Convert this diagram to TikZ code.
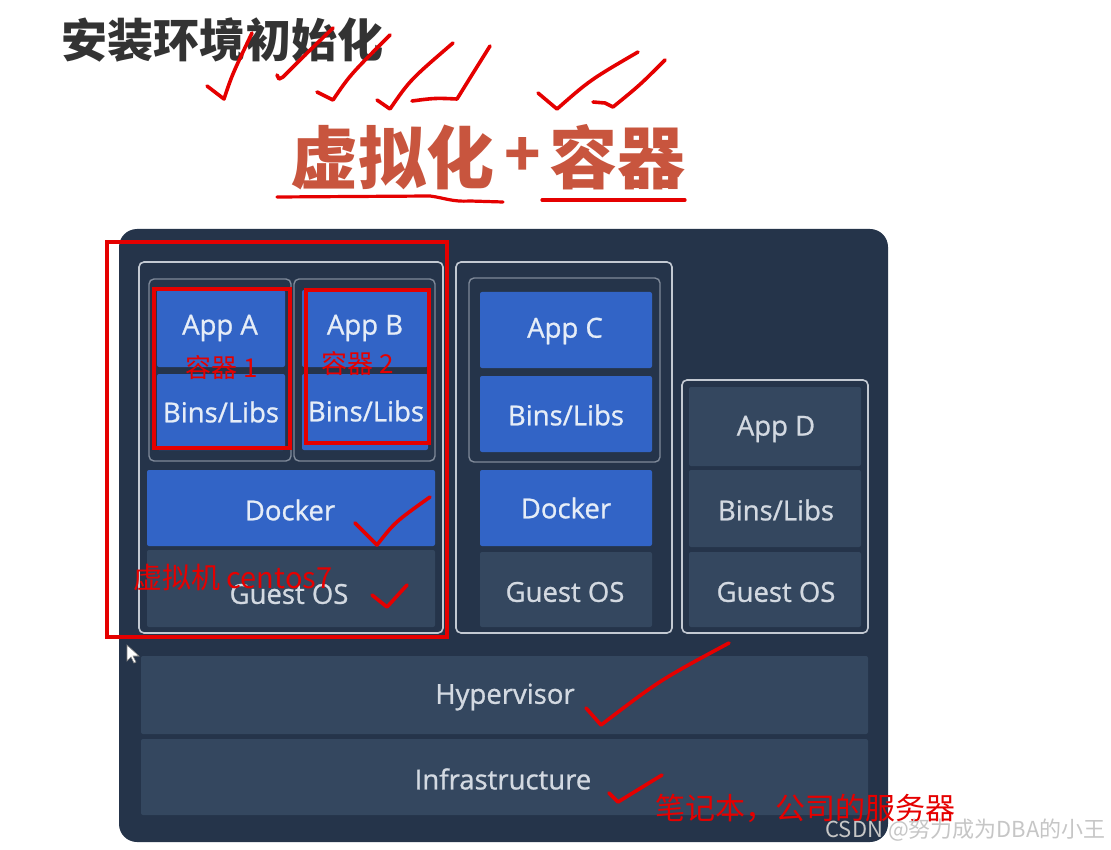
\documentclass[tikz,border=0pt]{standalone}
\usepackage{fontspec}
\setmainfont{Open Sans}
\newfontfamily\semi{Open Sans}[FakeBold=0.9]
\newfontfamily\cjk{Noto Sans CJK SC}
\usepackage{xcolor}
\usetikzlibrary{positioning}
\definecolor{kpanel}{HTML}{25344A}
\definecolor{kblue}{HTML}{3264C6}
\definecolor{kslate}{HTML}{34475F}
\definecolor{kframe}{HTML}{C3C9D2}
\definecolor{kctr}{HTML}{7F8999}
\definecolor{kltxt}{HTML}{E6EDF7}
\definecolor{kgtxt}{HTML}{D3D9E1}
\definecolor{kred}{HTML}{E50000}
\definecolor{khead}{HTML}{C8553E}

\begin{document}
\begin{tikzpicture}[x=1pt, y=-1pt,
  blueblk/.style={fill=kblue, rounded corners=2pt},
  slateblk/.style={fill=kslate, rounded corners=2pt},
  vmframe/.style={draw=kframe, line width=1.6pt, rounded corners=5pt},
  ctframe/.style={draw=kctr, line width=1.4pt, rounded corners=5pt},
  bluelbl/.style={font=\semi\fontsize{27.5}{30}\selectfont, text=kltxt},
  slatelbl/.style={font=\semi\fontsize{27.5}{30}\selectfont, text=kgtxt},
  redbox/.style={draw=kred, line width=3.2pt},
  redtxt/.style={font=\cjk\fontsize{26}{30}\selectfont, text=kred, inner sep=0pt},
  penmark/.style={draw=kred, line width=3.6pt, line cap=round, line join=round}]
\useasboundingbox (0,0) rectangle (1111,850);
\fill[white] (0,0) rectangle (1111,850);

% headings
\node[font=\cjk\bfseries\fontsize{46}{50}\selectfont, text=black!80, anchor=west, inner sep=0pt]
  (setup) at (61,40) {安装环境初始化};
\node[font=\cjk\bfseries\fontsize{68}{72}\selectfont, text=khead, anchor=west, inner sep=0pt]
  (virt) at (290,157) {虚拟化};
\node[font=\cjk\bfseries\fontsize{60}{64}\selectfont, text=khead, inner sep=0pt]
  (plus) at (523,157) {+};
\node[font=\cjk\bfseries\fontsize{68}{72}\selectfont, text=khead, anchor=west, inner sep=0pt]
  (ctr) at (549,157) {容器};

% dark panel
\fill[kpanel, rounded corners=18pt] (119,229) rectangle (888,842);

% VM 1: two containers on docker
\draw[vmframe] (139,262) rectangle (443,633);
\draw[ctframe] (149,279) rectangle (291,461);
\draw[ctframe] (294,279) rectangle (435,461);
\fill[blueblk] (157,290) rectangle (285,367);
\fill[blueblk] (157,374) rectangle (285,450);
\fill[blueblk] (302,290) rectangle (428,367);
\fill[blueblk] (302,374) rectangle (428,450);
\fill[blueblk] (147,470) rectangle (435,546);
\fill[slateblk] (147,550) rectangle (435,627);
\node[bluelbl] (appa) at (220,328) {App A};
\node[bluelbl] (libsa) at (221,412) {Bins/Libs};
\node[bluelbl] (appb) at (365,328) {App B};
\node[bluelbl] (libsb) at (366,411) {Bins/Libs};
\node[bluelbl] (dock1) at (290,510) {Docker};
\node[slatelbl] (os1) at (289,594) {Guest OS};

% VM 2: one container on docker
\draw[vmframe] (456,262) rectangle (672,633);
\draw[ctframe] (469,278) rectangle (660,462);
\fill[blueblk] (480,292) rectangle (652,368);
\fill[blueblk] (480,376) rectangle (652,452);
\fill[blueblk] (480,470) rectangle (652,546);
\fill[slateblk] (480,552) rectangle (652,627);
\node[bluelbl] (appc) at (565,331) {App C};
\node[bluelbl] (libsc) at (566,415) {Bins/Libs};
\node[bluelbl] (dock2) at (566,508) {Docker};
\node[slatelbl] (os2) at (565,592) {Guest OS};

% VM 3: plain app
\draw[vmframe] (682,380) rectangle (868,633);
\fill[slateblk] (689,387) rectangle (861,466);
\fill[slateblk] (689,470) rectangle (861,547);
\fill[slateblk] (689,552) rectangle (861,627);
\node[slatelbl] (appd) at (776,429) {App D};
\node[slatelbl] (libsd) at (776,510) {Bins/Libs};
\node[slatelbl] (os3) at (776,592) {Guest OS};

% shared layers
\fill[slateblk] (141,656) rectangle (868,734);
\fill[slateblk] (141,739) rectangle (868,815);
\node[slatelbl] (hyper) at (505,697) {Hypervisor};
\node[slatelbl] (infra) at (503,779) {Infrastructure};

% mouse pointer
\filldraw[fill=white, draw=gray, line width=0.6pt]
  (127,645) -- (127,661) -- (131,657) -- (134,663) -- (136,662) -- (133,656) -- (139,656) -- cycle;

% red notes
\draw[redbox] (107,242) rectangle (447,637);
\draw[redbox] (154,289) rectangle (290,448);
\draw[redbox] (306,290) rectangle (429,443);
\node[redtxt] (ctra) at (222,368) {容器 1};
\node[redtxt] (ctrb) at (358,364) {容器 2};
\node[redtxt, anchor=west, font=\cjk\fontsize{29}{31}\selectfont] (vmname) at (133,577) {虚拟机 centos7};
\node[redtxt, anchor=west, font=\cjk\fontsize{30}{32}\selectfont] (laptop) at (655,808) {笔记本，公司的服务器};

% underlines
\draw[penmark, line width=3.2pt] (277,197) -- (430,196) .. controls (445,198) and (452,202) .. (470,201) -- (503,202);
\draw[penmark, line width=3.2pt] (542,200) -- (685,200);

% check marks
\draw[penmark] (207,86) -- (224,99) .. controls (232,75) .. (252,33);
\draw[penmark] (277,75) -- (279,79) -- (283,77) .. controls (305,55) .. (333,28);
\draw[penmark] (317,92) -- (333,100) .. controls (350,75) .. (390,35);
\draw[penmark] (377,100) -- (390,109) .. controls (410,80) .. (453,43);
\draw[penmark] (412,101) .. controls (435,98) .. (457,99) .. controls (470,78) .. (490,46);
\draw[penmark] (538,93) -- (557,109) .. controls (590,80) .. (638,52);
\draw[penmark] (593,102) -- (605,103) -- (613,107) .. controls (640,85) .. (665,60);
\draw[penmark] (355,523) -- (377,545) .. controls (395,522) .. (430,497);
\draw[penmark] (372,595) -- (387,607) -- (407,585);
\draw[penmark] (586,708) -- (601,725) .. controls (660,680) .. (729,643);
\draw[penmark] (609,793) -- (618,802) -- (662,775);

% watermark
\node[font=\cjk\fontsize{22}{24}\selectfont, text=gray!45, anchor=east, inner sep=0pt]
  (mark) at (1106,830) {CSDN @努力成为DBA的小王};
\end{tikzpicture}
\end{document}
